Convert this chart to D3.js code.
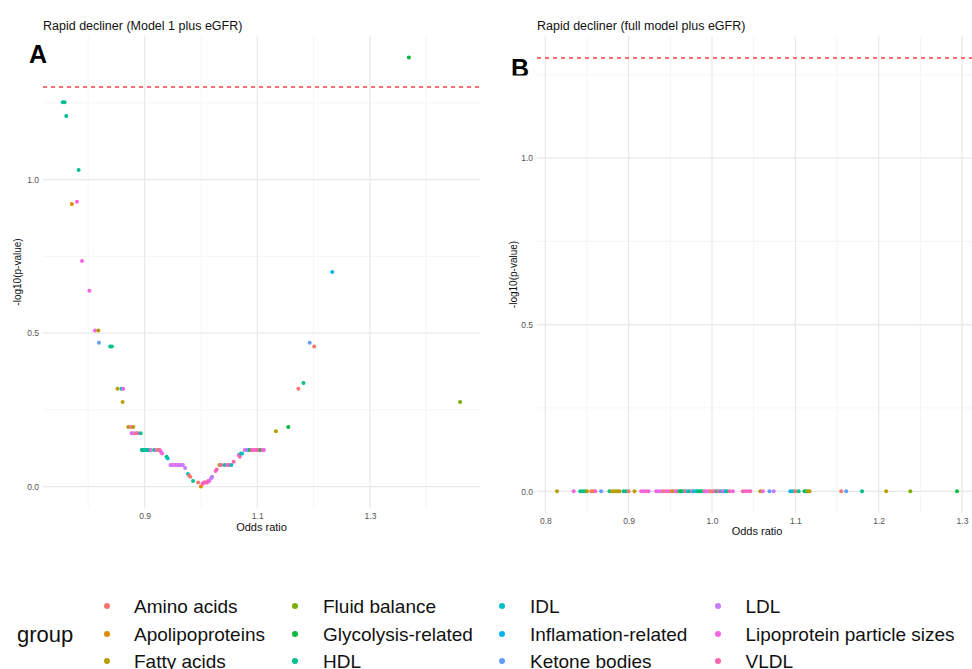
<!DOCTYPE html>
<html>
<head>
<meta charset="utf-8">
<script src="https://cdn.jsdelivr.net/npm/d3@7"></script>
<style>
  html, body { margin: 0; padding: 0; background: #ffffff; }
  svg { display: block; font-family: "Liberation Sans", Arial, Helvetica, sans-serif; }
</style>
</head>
<body>
<svg id="chart" width="972" height="669"></svg>
<script>
// Metabolite groups and their ggplot-style hue colours
const groups = ["Amino acids", "Apolipoproteins", "Fatty acids", "Fluid balance",
  "Glycolysis-related", "HDL", "IDL", "Inflamation-related", "Ketone bodies",
  "LDL", "Lipoprotein particle sizes", "VLDL"];
const groupColors = ["#F8766D", "#DE8C00", "#B79F00", "#7CAE00", "#00BA38", "#00C08B",
  "#00BFC4", "#00B4F0", "#619CFF", "#C77CFF", "#F564E3", "#FF64B0"];

// Panel A: Model 1 plus eGFR — odds ratio, p-value, group index
const orA = [0.755, 0.758, 0.761, 0.783, 0.771, 0.780, 0.789, 0.802, 0.812, 0.818,
  0.819, 0.839, 0.842, 0.852, 0.859, 0.862, 0.861,
  0.871, 0.876, 0.880, 0.877, 0.881, 0.885, 0.888, 0.893,
  0.895, 0.897, 0.899, 0.901, 0.903, 0.905, 0.907, 0.909, 0.911, 0.917, 0.921, 0.925, 0.927,
  0.929, 0.931, 0.939, 0.941,
  0.946, 0.949, 0.952, 0.955, 0.957, 0.960, 0.963, 0.965, 0.968, 0.972,
  0.977, 0.979, 0.981, 0.986, 0.995, 1.000,
  1.003, 1.005, 1.007, 1.009, 1.011, 1.013, 1.015, 1.018, 1.020, 1.026, 1.028,
  1.033, 1.036, 1.042, 1.047, 1.050, 1.054, 1.058,
  1.067, 1.069, 1.071, 1.073,
  1.078, 1.081, 1.084, 1.087, 1.090, 1.093, 1.096, 1.099, 1.102, 1.106, 1.109, 1.112,
  1.133, 1.155, 1.173, 1.182, 1.193, 1.201, 1.233, 1.369, 1.460];
const pA = [0.056, 0.056, 0.062, 0.093, 0.12, 0.118, 0.184, 0.23, 0.31, 0.31,
  0.34, 0.35, 0.35, 0.48, 0.48, 0.48, 0.53,
  0.64, 0.64, 0.64, 0.67, 0.67, 0.67, 0.67, 0.67,
  0.76, 0.76, 0.76, 0.76, 0.76, 0.76, 0.76, 0.76, 0.76, 0.76, 0.76, 0.76, 0.76,
  0.77, 0.78, 0.80, 0.81,
  0.85, 0.85, 0.85, 0.85, 0.85, 0.85, 0.85, 0.85, 0.85, 0.87,
  0.91, 0.92, 0.93, 0.96, 0.97, 1.00,
  0.98, 0.97, 0.97, 0.97, 0.97, 0.96, 0.96, 0.94, 0.93, 0.89, 0.88,
  0.85, 0.85, 0.85, 0.85, 0.85, 0.85, 0.83,
  0.79, 0.80, 0.78, 0.78,
  0.76, 0.76, 0.76, 0.76, 0.76, 0.76, 0.76, 0.76, 0.76, 0.76, 0.76, 0.76,
  0.66, 0.64, 0.48, 0.46, 0.34, 0.35, 0.20, 0.04, 0.53];
const grpA = [5, 5, 5, 5, 1, 10, 10, 10, 10, 2,
  8, 5, 5, 2, 6, 10, 2,
  2, 11, 2, 10, 9, 0, 11, 5,
  5, 5, 5, 5, 6, 5, 5, 5, 10, 5, 10, 2, 11,
  10, 10, 5, 6,
  9, 10, 9, 9, 10, 9, 9, 10, 9, 9,
  6, 0, 0, 5, 0, 1,
  11, 11, 10, 11, 11, 11, 10, 9, 9, 10, 11,
  2, 11, 5, 10, 11, 6, 11,
  10, 11, 5, 6,
  10, 9, 8, 4, 11, 11, 10, 11, 11, 4, 11, 10,
  2, 4, 0, 5, 8, 0, 7, 4, 3];

// Panel B: full model plus eGFR — odds ratio, p-value, group index
const orB = [0.814, 0.834, 0.842, 0.845, 0.848, 0.850, 0.855, 0.858, 0.860, 0.867,
  0.877, 0.880, 0.882, 0.885, 0.887, 0.889, 0.894, 0.897, 0.900, 0.907,
  0.915, 0.918, 0.921, 0.924,
  0.933, 0.936, 0.939, 0.942, 0.945, 0.948, 0.951, 0.953, 0.956, 0.958,
  0.961, 0.963, 0.966, 0.968, 0.971, 0.973, 0.976, 0.978, 0.981, 0.983,
  0.986, 0.988, 0.991, 0.993, 0.996, 0.998, 1.001, 1.003, 1.006, 1.008,
  1.011, 1.013, 1.016, 1.018, 1.021, 1.025,
  1.037, 1.040, 1.043, 1.046, 1.058, 1.061, 1.069, 1.074,
  1.094, 1.097, 1.100, 1.104, 1.111, 1.113, 1.115, 1.117,
  1.155, 1.161, 1.180, 1.209, 1.238, 1.294];
const pB = [1, 1, 1, 1, 1, 1, 1, 1, 1, 1,
  1, 1, 1, 1, 1, 1, 1, 1, 1, 1,
  1, 1, 1, 1,
  1, 1, 1, 1, 1, 1, 1, 1, 1, 1,
  1, 1, 1, 1, 1, 1, 1, 1, 1, 1,
  1, 1, 1, 1, 1, 1, 1, 1, 1, 1,
  1, 1, 1, 1, 1, 1,
  1, 1, 1, 1, 1, 1, 1, 1,
  1, 1, 1, 1, 1, 1, 1, 1,
  1, 1, 1, 1, 1, 1];
const grpB = [2, 10, 5, 5, 5, 2, 0, 1, 10, 8,
  5, 2, 2, 2, 2, 2, 5, 5, 0, 2,
  10, 10, 11, 10,
  10, 10, 9, 0, 11, 10, 0, 2, 10, 11,
  5, 4, 5, 11, 6, 5, 10, 6, 7, 5,
  4, 5, 11, 10, 9, 0, 0, 11, 5, 11,
  6, 10, 7, 5, 11, 10,
  11, 11, 10, 11, 2, 10, 8, 9,
  7, 6, 0, 5, 4, 5, 2, 2,
  0, 8, 5, 2, 3, 4];

const alphaLevel = 0.05;

// Axis breaks
const xBreaksA = [0.9, 1.1, 1.3];
const xMinorA = [0.8, 1.0, 1.2, 1.4];
const xBreaksB = [0.8, 0.9, 1.0, 1.1, 1.2, 1.3];
const xMinorB = [0.85, 0.95, 1.05, 1.15, 1.25];
const yBreaks = [0, 0.5, 1.0];
const yMinor = [0.25, 0.75, 1.25];

const svg = d3.select("#chart");
svg.append("rect").attr("width", 972).attr("height", 669).attr("fill", "#fff");

function expand(ext) {
  const pad = (ext[1] - ext[0]) * 0.05;
  return [ext[0] - pad, ext[1] + pad];
}

function drawPanel(cfg) {
  const { or, p, grp, box, title, xBreaks, xMinor } = cfg;
  const logp = p.map(v => -Math.log10(v));
  const thr = -Math.log10(alphaLevel);

  const x = d3.scaleLinear().domain(expand(d3.extent(or))).range([box.x0, box.x1]);
  const y = d3.scaleLinear()
    .domain(expand([0, Math.max(d3.max(logp), thr)]))
    .range([box.y1, box.y0]);

  const g = svg.append("g");
  const clipId = "clip-" + cfg.id;
  g.append("clipPath").attr("id", clipId).append("rect")
    .attr("x", box.x0).attr("y", box.y0)
    .attr("width", box.x1 - box.x0).attr("height", box.y1 - box.y0);

  const grid = g.append("g").attr("clip-path", `url(#${clipId})`);
  // minor grid
  grid.selectAll(".vminor").data(xMinor).join("line")
    .attr("x1", d => x(d)).attr("x2", d => x(d))
    .attr("y1", box.y0).attr("y2", box.y1)
    .attr("stroke", "#f1f1f1").attr("stroke-width", 0.7);
  grid.selectAll(".hminor").data(yMinor).join("line")
    .attr("class", "hminor")
    .attr("x1", box.x0).attr("x2", box.x1)
    .attr("y1", d => y(d)).attr("y2", d => y(d))
    .attr("stroke", "#f1f1f1").attr("stroke-width", 0.7);
  // major grid
  grid.selectAll(".vmajor").data(xBreaks).join("line")
    .attr("class", "vmajor")
    .attr("x1", d => x(d)).attr("x2", d => x(d))
    .attr("y1", box.y0).attr("y2", box.y1)
    .attr("stroke", "#e8e8e8").attr("stroke-width", 1.2);
  grid.selectAll(".hmajor").data(yBreaks).join("line")
    .attr("class", "hmajor")
    .attr("x1", box.x0).attr("x2", box.x1)
    .attr("y1", d => y(d)).attr("y2", d => y(d))
    .attr("stroke", "#e8e8e8").attr("stroke-width", 1.2);

  // significance threshold
  const ty = Math.round(y(thr));
  g.append("line")
    .attr("x1", box.x0).attr("x2", box.x1)
    .attr("y1", ty).attr("y2", ty)
    .attr("stroke", "#ff4040").attr("stroke-width", 1.4)
    .attr("stroke-dasharray", "4,4");

  // points
  const pts = or.map((d, i) => ({ or: d, lp: logp[i], g: grp[i] }));
  g.append("g").attr("clip-path", `url(#${clipId})`)
    .selectAll("circle").data(pts).join("circle")
    .attr("cx", d => x(d.or)).attr("cy", d => y(d.lp))
    .attr("r", 2).attr("fill", d => groupColors[d.g]);

  // axes
  const xAxis = g.append("g").attr("transform", `translate(0,${box.y1})`)
    .call(d3.axisBottom(x).tickValues(xBreaks).tickSize(0).tickPadding(5)
      .tickFormat(d3.format(".1f")));
  const yAxis = g.append("g").attr("transform", `translate(${box.x0},0)`)
    .call(d3.axisLeft(y).tickValues(yBreaks).tickSize(0).tickPadding(4)
      .tickFormat(d3.format(".1f")));
  [xAxis, yAxis].forEach(a => {
    a.select(".domain").remove();
    a.selectAll("text").attr("fill", "#555").attr("font-size", 8.5)
      .attr("font-family", "Liberation Sans, Arial, sans-serif");
  });

  // titles
  g.append("text").attr("x", box.x0).attr("y", 29.5)
    .attr("font-size", 12.5).attr("fill", "#111").text(title);
  g.append("text").attr("x", (box.x0 + box.x1) / 2).attr("y", cfg.xTitleY)
    .attr("text-anchor", "middle").attr("font-size", 11).attr("fill", "#111")
    .text("Odds ratio");
  g.append("text")
    .attr("transform", `translate(${cfg.yTitleX},${(box.y0 + box.y1) / 2}) rotate(-90)`)
    .attr("text-anchor", "middle").attr("font-size", 10).attr("fill", "#111")
    .text("-log10(p-value)");
}

drawPanel({
  id: "a", or: orA, p: pA, grp: grpA,
  box: { x0: 43, x1: 480, y0: 36, y1: 508 },
  title: "Rapid decliner (Model 1 plus eGFR)",
  xBreaks: xBreaksA, xMinor: xMinorA, xTitleY: 531, yTitleX: 20.5
});
drawPanel({
  id: "b", or: orB, p: pB, grp: grpB,
  box: { x0: 537, x1: 977, y0: 36, y1: 513 },
  title: "Rapid decliner (full model plus eGFR)",
  xBreaks: xBreaksB, xMinor: xMinorB, xTitleY: 535, yTitleX: 516.5
});

// panel tags
svg.append("text").attr("x", 29).attr("y", 63)
  .attr("font-size", 25).attr("font-weight", "bold").attr("fill", "#000").text("A");
svg.append("clipPath").attr("id", "tagclip").append("rect")
  .attr("x", 500).attr("y", 40).attr("width", 40).attr("height", 35.5);
svg.append("text").attr("x", 511).attr("y", 77)
  .attr("clip-path", "url(#tagclip)")
  .attr("font-size", 25).attr("font-weight", "bold").attr("fill", "#000").text("B");

// legend
const legend = svg.append("g");
legend.append("text").attr("x", 17).attr("y", 634).attr("dy", "0.35em")
  .attr("font-size", 22).attr("fill", "#111").text("group");
const colDotX = [107, 295, 502, 718];
const colTextX = [134, 323, 530, 745.5];
const rowY = [606, 634, 661];
const items = legend.selectAll("g.item").data(groups).join("g").attr("class", "item")
  .attr("transform", (d, i) => `translate(0,${rowY[i % 3]})`);
items.append("circle")
  .attr("cx", (d, i) => colDotX[Math.floor(i / 3)]).attr("cy", 0).attr("r", 3)
  .attr("fill", (d, i) => groupColors[i]);
items.append("text")
  .attr("x", (d, i) => colTextX[Math.floor(i / 3)]).attr("y", 0).attr("dy", "0.35em")
  .attr("font-size", 19).attr("fill", "#111").text(d => d);
</script>
</body>
</html>
